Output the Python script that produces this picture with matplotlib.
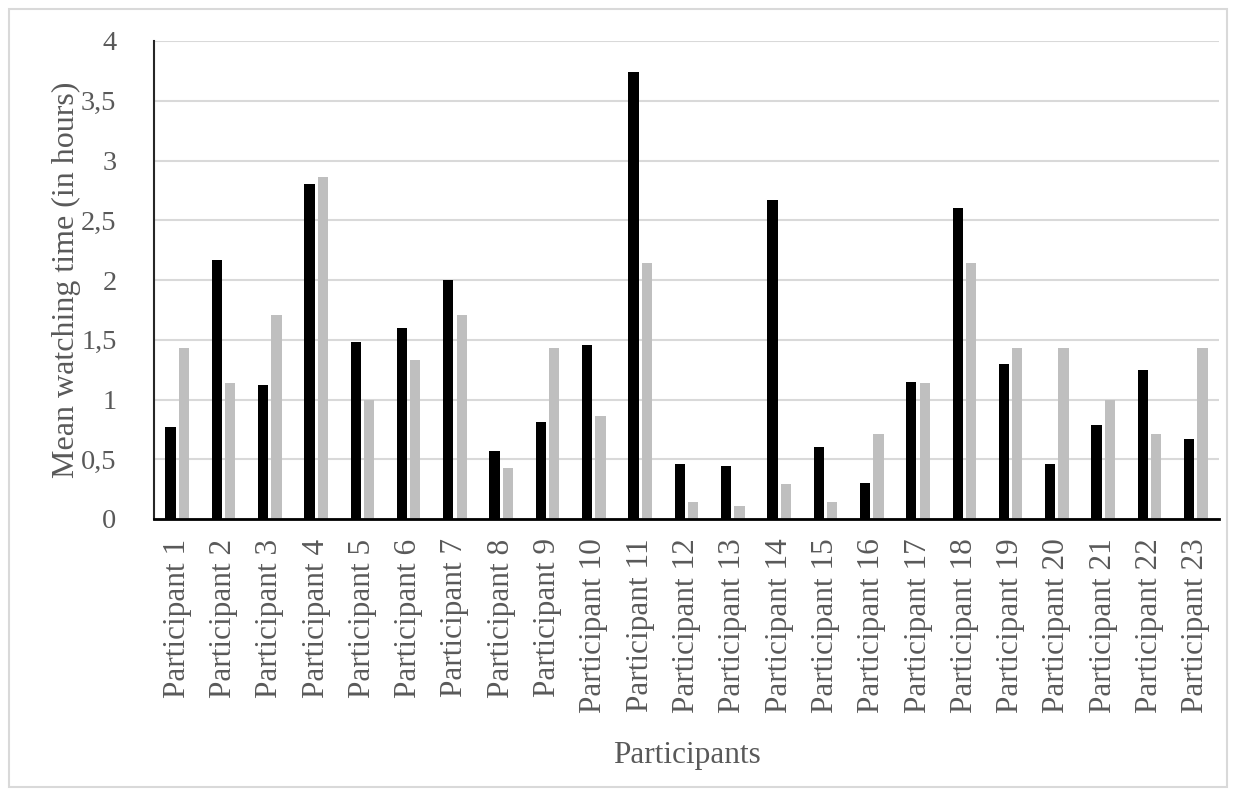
import numpy as np
import matplotlib.pyplot as plt
from matplotlib.ticker import FuncFormatter
from matplotlib.patches import Rectangle

participants = ['Participant %d' % i for i in range(1, 24)]

# mean watching time per participant, two conditions
series_black = [0.77, 2.17, 1.12, 2.80, 1.48, 1.60, 2.00, 0.57, 0.81, 1.46,
                3.74, 0.46, 0.44, 2.67, 0.60, 0.30, 1.15, 2.60, 1.30, 0.46,
                0.79, 1.25, 0.67]
series_grey = [1.43, 1.14, 1.71, 2.86, 1.00, 1.33, 1.71, 0.43, 1.43, 0.86,
               2.14, 0.14, 0.11, 0.29, 0.14, 0.71, 1.14, 2.14, 1.43, 1.43,
               1.00, 0.71, 1.43]

plt.rcParams['font.family'] = 'Liberation Serif'
text_color = '#595959'

fig = plt.figure(figsize=(12.36, 7.96), dpi=100)
ax = fig.add_axes([154 / 1236, 1 - 519 / 796, (1219 - 154) / 1236, (519 - 41) / 796])

x = np.arange(len(participants))
width = 0.222
offset = 0.144
ax.bar(x - offset, series_black, width, color='black', zorder=3)
ax.bar(x + offset, series_grey, width, color='#bfbfbf', zorder=3)

ax.set_xlim(-0.5, len(participants) - 0.5)
ax.set_ylim(0, 4)
ax.set_yticks(np.arange(0, 4.01, 0.5))
ax.yaxis.set_major_formatter(FuncFormatter(lambda v, p: ('%g' % v).replace('.', ',')))
ax.grid(axis='y', color='#d9d9d9', linewidth=1.5, zorder=0)

ax.set_xticks(x)
ax.set_xticklabels(participants, rotation=90, fontsize=22.5, color=text_color)
ax.tick_params(axis='y', labelsize=20.5, labelcolor=text_color, length=0, pad=27)
ax.tick_params(axis='x', length=0, pad=14)

for side in ('top', 'right'):
    ax.spines[side].set_visible(False)
ax.spines['left'].set_color('#262626')
ax.spines['left'].set_linewidth(1.5)
ax.spines['bottom'].set_color('black')
ax.spines['bottom'].set_linewidth(2)
ax.spines['bottom'].set_zorder(4)

ax.set_ylabel('Mean watching time (in hours)', fontsize=23, color=text_color)
ax.yaxis.set_label_coords(-0.069, 0.5)
ax.set_xlabel('Participants', fontsize=22.5, color=text_color)
ax.xaxis.set_label_coords(0.5, -0.465)

# thin frame around the whole chart
fig.patches.append(Rectangle((9 / 1236, 9 / 796), 1 - 18 / 1236, 1 - 18 / 796,
                             transform=fig.transFigure, fill=False,
                             edgecolor='#d9d9d9', linewidth=1.5))

fig.savefig('out.png', dpi=100)
